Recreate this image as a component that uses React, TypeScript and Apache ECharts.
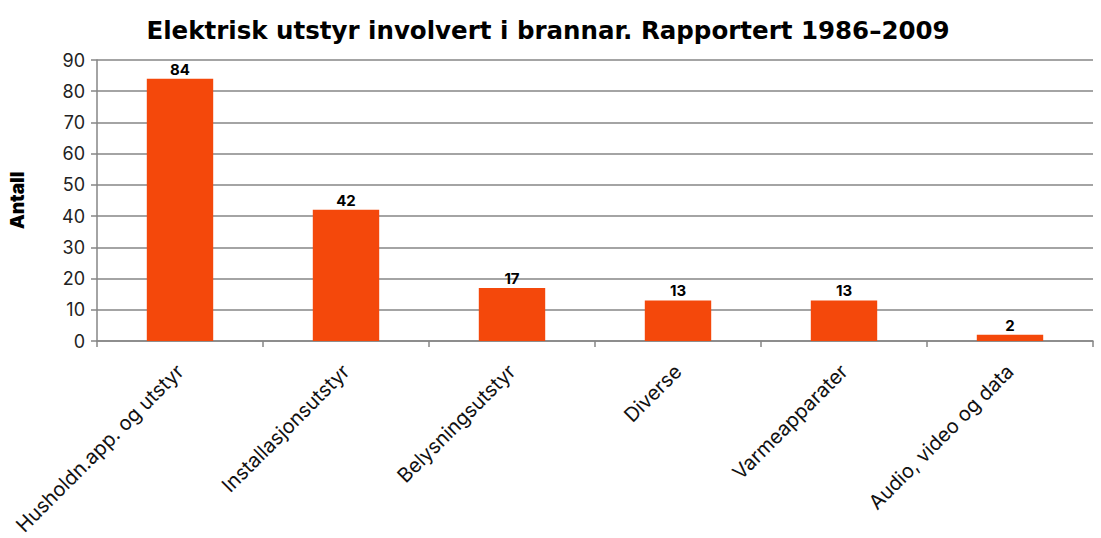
import React, { useEffect, useRef } from "react";
import * as echarts from "echarts";

const categories = [
  "Husholdn.app. og utstyr",
  "Installasjonsutstyr",
  "Belysningsutstyr",
  "Diverse",
  "Varmeapparater",
  "Audio, video og data",
];
const values = [84, 42, 17, 13, 13, 2];
const titleText = "Elektrisk utstyr involvert i brannar. Rapportert 1986\u20132009";
const yName = "Antall";

export default function App() {
  const ref = useRef<HTMLDivElement>(null);
  useEffect(() => {
    const chart = echarts.init(ref.current!, null, { renderer: "svg" });
    chart.setOption({
      animation: false,
      title: {
        text: titleText,
        left: 543,
        textAlign: "center",
        top: 13,
        textStyle: { fontFamily: "DejaVu Sans", fontWeight: "bold", fontSize: 24.5, color: "#000" },
      },
      grid: { left: 97, right: 8, top: 60, bottom: 197 },
      xAxis: {
        type: "category",
        data: categories,
        axisLine: { lineStyle: { color: "#868686", width: 1.5 } },
        axisTick: { show: true, length: 6, lineStyle: { color: "#868686", width: 1.5 } },
        axisLabel: {
          rotate: 45,
          interval: 0,
          fontFamily: "Inter",
          fontSize: 20,
          color: "#111",
          margin: 27,
        },
      },
      yAxis: {
        type: "value",
        min: 0,
        max: 90,
        interval: 10,
        name: yName,
        nameLocation: "middle",
        nameGap: 70,
        nameTextStyle: { fontFamily: "Inter", fontWeight: 900, fontSize: 19, color: "#000" },
        axisLine: { show: true, lineStyle: { color: "#868686", width: 1.5 } },
        axisTick: { show: true, length: 6, lineStyle: { color: "#868686", width: 1.5 } },
        splitLine: { lineStyle: { color: "#868686", width: 1.5 } },
        axisLabel: { fontFamily: "Inter", fontSize: 18, color: "#222", margin: 12 },
      },
      series: [
        {
          type: "bar",
          data: values,
          barWidth: "40%",
          itemStyle: { color: "#F4480B" },
          label: {
            show: true,
            position: "top",
            distance: 2,
            fontFamily: "Inter",
            fontWeight: "bold",
            fontSize: 15,
            color: "#000",
          },
        },
      ],
    });
    return () => chart.dispose();
  }, []);
  return <div ref={ref} style={{ width: 1101, height: 538, position: "absolute", left: 0, top: 0 }} />;
}
